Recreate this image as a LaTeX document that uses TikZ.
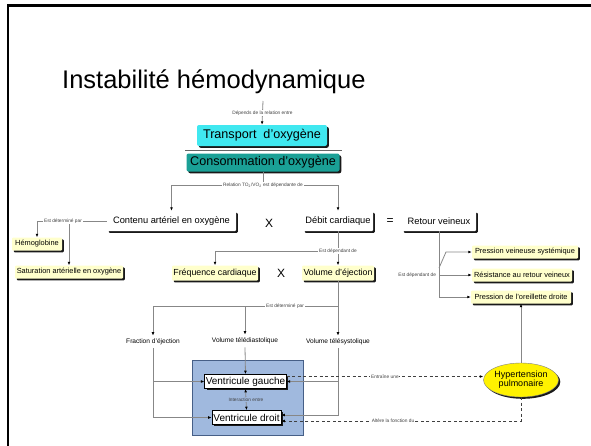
\documentclass[tikz,border=0pt]{standalone}
\usepackage{fontspec}
\setmainfont{Liberation Sans}
\usetikzlibrary{arrows.meta,shadows,shapes.geometric}
\newcommand\fsz[1]{\fontsize{#1}{#1}\selectfont}
\definecolor{cyanbox}{RGB}{64,232,240}
\definecolor{tealbox}{RGB}{26,160,150}
\definecolor{yelbox}{RGB}{255,255,204}
\definecolor{bluebg}{RGB}{160,185,222}
\definecolor{blueedge}{RGB}{70,95,135}
\definecolor{conn}{RGB}{135,135,135}
\tikzset{
  shad/.style={drop shadow={shadow xshift=1.8pt,shadow yshift=-1.8pt,fill=black!90,opacity=1}},
  wbox/.style={shad,fill=white,rounded corners=1pt,minimum height=20pt,inner sep=1pt,font=\fsz{9.3}},
  ybox/.style={shad,fill=yelbox,rounded corners=1pt,minimum height=13pt,inner sep=1pt,font=\fsz{7.4}},
  vbox/.style={shad,draw=black,fill=white,line width=0.6pt,minimum height=14pt,inner sep=1pt,font=\fsz{10}},
  plain/.style={inner sep=3pt,font=\fsz{6.6}},
  tlab/.style={fill=white,inner sep=0.8pt,font=\fsz{4.8},text=black!75},
  cl/.style={draw=conn,line width=0.8pt},
  arr/.style={cl,-{Latex[length=3.5pt,width=2.8pt,color=black]}},
  arrb/.style={cl,{Latex[length=3.5pt,width=2.8pt,color=black]}-{Latex[length=3.5pt,width=2.8pt,color=black]}},
  darr/.style={draw=black!75,line width=0.9pt,dash pattern=on 3pt off 2.5pt,-{Latex[length=3.5pt,width=2.8pt,color=black]}},
  sym/.style={font=\fsz{12}}
}
\begin{document}
\begin{tikzpicture}[x=1pt,y=-1pt]
\useasboundingbox (0,0) rectangle (591,445);
% frame
\draw[line width=2.5pt] (8,446) -- (8,5.5) -- (592,5.5);
% title
\node[anchor=base west,inner sep=0,font=\fsz{25.5}] (title) at (62,88) {Instabilité hémodynamique};

% blue background
\node[draw=blueedge,fill=bluebg,line width=1pt,minimum width=111pt,minimum height=75pt,inner sep=0] (BB) at (247.5,397.5) {};

% top boxes
\node[shad,fill=cyanbox,rounded corners=2pt,minimum width=130pt,minimum height=21pt,inner sep=0,font=\fsz{12.6}] (T) at (262,135.5) {Transport\ \ d'oxygène};
\draw[draw=black!60,line width=1.8pt] (185,150.5) -- (342,150.5);
\node[shad,fill=tealbox,rounded corners=2pt,minimum width=153pt,minimum height=18pt,inner sep=0,font=\fsz{12.6}] (C) at (263,162.5) {Consommation d'oxygène};

% row 1
\node[wbox,minimum width=129pt] (Ct) at (171.5,221) {Contenu artériel en oxygène};
\node[sym] (x1) at (269,223) {X};
\node[wbox,minimum width=70pt] (Db) at (338,221) {Débit cardiaque};
\node[sym] (eq) at (390,222) {=};
\node[wbox,minimum width=74pt] (Rv) at (439,221) {Retour veineux};

% left yellow boxes
\node[ybox,minimum width=50pt] (Hemo) at (37,244) {Hémoglobine};
\node[ybox,minimum width=108pt] (Sat) at (69,272) {Saturation artérielle en oxygène};

% row 2
\node[ybox,minimum width=86pt,minimum height=15pt,font=\fsz{8.8}] (Fq) at (215,273) {Fréquence cardiaque};
\node[sym] (x2) at (281,273) {X};
\node[ybox,minimum width=72pt,minimum height=15pt,font=\fsz{8.8}] (Vol) at (338,273) {Volume d'éjection};

% right yellow boxes
\node[ybox,minimum width=106pt] (PVS) at (525,252) {Pression veineuse systémique};
\node[ybox,minimum width=100pt] (Res) at (522,275) {Résistance au retour veineux};
\node[ybox,minimum width=100pt] (POD) at (521,297) {Pression de l'oreillette droite};

% determinants
\node[plain] (FE) at (153,342) {Fraction d'éjection};
\node[plain] (VTD) at (245,341) {Volume télédiastolique};
\node[plain] (VTS) at (338,342) {Volume télésystolique};

% ventricles
\node[vbox,minimum width=81pt] (VG) at (245.5,381.5) {Ventricule gauche};
\node[vbox,minimum width=69pt] (VD) at (246.5,417.5) {Ventricule droit};

% hypertension
\node[ellipse,shad,fill=yellow,draw=black!50,line width=0.4pt,minimum width=74pt,minimum height=34pt,inner sep=0,align=center,font=\fsz{9}] (HTP) at (521,380) {Hypertension\\pulmonaire};

% ---- connectors ----
\coordinate (top) at (263,101);
\draw[arr] (top) -- node[tlab]{Dépends de la relation entre} (T.north);

\coordinate (rj) at (263,185);
\draw[cl] (C.south) -- (rj);
\draw[arr] (rj) -| (Ct.north);
\draw[arr] (rj) -| (Db.north);
\node[tlab] at (rj) {Relation TO\textsubscript{2}/VO\textsubscript{2} est dépendante de};

\draw[arr] (Ct.west) -| (Hemo.north);
\draw[arr] (Sat.north |- Ct.west) -- (Sat.north);
\node[tlab] at (63,221) {Est déterminé par};

\coordinate (dj) at (338,251);
\draw[cl] (Db.south) -- (dj);
\draw[arr] (dj) -| (Fq.north);
\draw[arr] (dj) -- (Vol.north);
\node[tlab] at (dj) {Est dépendant de};

\coordinate (rb) at (439,268);
\coordinate (rk) at (446,252);
\draw[arr] (Rv.south) |- (POD.west);
\draw[arr] (rb) -- (rk) -- (PVS.west);
\draw[arr] (Rv.south |- Res.west) -- (Res.west);
\node[tlab,anchor=east] at (437,275) {Est dépendant de};

\draw[arr] (HTP.north) -- (POD.south);

\coordinate (vj) at (338,306);
\draw[cl] (Vol.south) -- (vj);
\draw[arr] (vj) -| (FE.north);
\draw[arr] (VTD.north |- vj) -- (VTD.north);
\draw[arr] (vj) -- (VTS.north);
\node[tlab] at (285,306) {Est déterminé par};

\draw[arr] (VTD.south) -- (VG.north);
\draw[arr] (FE.south) |- (VD.west);
\draw[arr] (FE.south |- VG.west) -- (VG.west);
\draw[arr] (VTS.south) |- ([yshift=2.5pt]VD.east);
\draw[arr] (VTS.south |- VG.east) -- (VG.east);

\draw[arrb] (VG.south) -- node[tlab,fill=bluebg]{Interaction entre} (VD.north);

\draw[darr] ([yshift=5pt]VG.east) -- node[tlab]{Entraîne une} ([yshift=5pt]VG.east -| HTP.west);
\draw[darr] (HTP.south) |- node[tlab,pos=0.767]{Altère la fonction du} ([yshift=-3.5pt]VD.east);
\end{tikzpicture}
\end{document}
